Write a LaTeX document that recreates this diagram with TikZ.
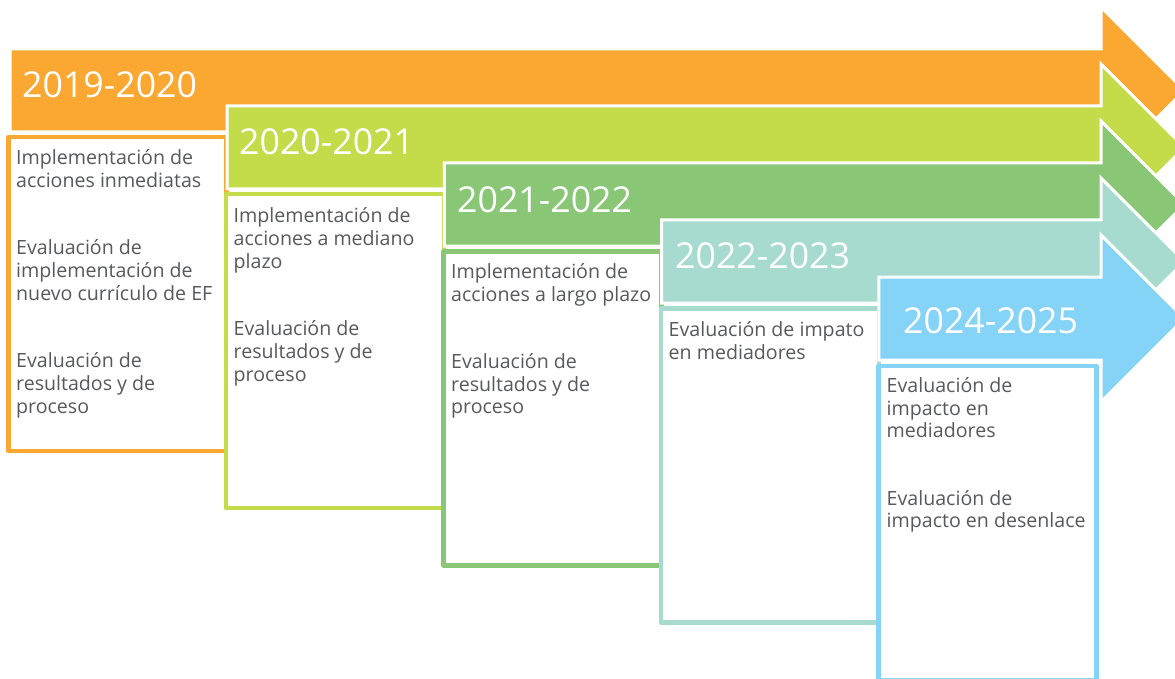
\documentclass[tikz,border=0pt]{standalone}
\usepackage{fontspec}
\setmainfont{Open Sans}
\definecolor{c1}{RGB}{251,168,50}
\definecolor{c2}{RGB}{196,219,74}
\definecolor{c3}{RGB}{137,199,118}
\definecolor{c4}{RGB}{168,219,208}
\definecolor{c5}{RGB}{133,212,248}
\definecolor{txt}{RGB}{88,89,91}
\begin{document}
\begin{tikzpicture}[x=1pt,y=-1pt,
  arrowshape/.style={fill=#1,draw=white,line width=3pt,line join=miter},
  boxframe/.style={draw=#1,fill=white,line width=4.5pt,line join=round},
  year/.style={anchor=base west,inner sep=0pt,text=white,font=\fontsize{35.7}{42}\selectfont},
  body/.style={anchor=north west,inner sep=0pt,align=left,text=txt,font=\fontsize{19.6}{22.8}\selectfont}]
\useasboundingbox (0,0) rectangle (1175,679);
\clip (0,0) rectangle (1175,679);
\foreach \k/\c in {0/c1,1/c2,2/c3,3/c4,4/c5}{
  \pgfmathsetmacro\L{10+217.2*\k}
  \pgfmathsetmacro\T{49+57*\k}
  \pgfmathsetmacro\B{\T+83}
  \pgfmathsetmacro\C{\T+41.5}
  \pgfmathsetmacro\HT{\T-42}
  \pgfmathsetmacro\HB{\B+42}
  \path[arrowshape=\c] (\L,\T) -- (1101,\T) -- (1101,\HT) -- (1184.5,\C) -- (1101,\HB) -- (1101,\B) -- (\L,\B) -- cycle;
  \pgfmathsetmacro\BL{8.5+217.5*\k}
  \pgfmathsetmacro\BT{137+57.2*\k}
  \path[boxframe=\c] (\BL,\BT) rectangle ++(218,314);
}
\node[year] (y1) at (22,98) {2019-2020};
\node[year] (y2) at (239,155) {2020-2021};
\node[year] (y3) at (457,212) {2021-2022};
\node[year] (y4) at (675,268) {2022-2023};
\node[year] (y5) at (903,333) {2024-2025};
\node[body] (b1) at (16,144.5) {\rule{0pt}{20pt}Implementación de\\acciones inmediatas\\[44.5pt]Evaluación de\\implementación de\\nuevo currículo de EF\\[44.5pt]Evaluación de\\resultados y de\\proceso};
\node[body] (b2) at (233.5,202.5) {\rule{0pt}{20pt}Implementación de\\acciones a mediano\\plazo\\[44.5pt]Evaluación de\\resultados y de\\proceso};
\node[body] (b3) at (451,258) {\rule{0pt}{20pt}Implementación de\\acciones a largo plazo\\[44.5pt]Evaluación de\\resultados y de\\proceso};
\node[body] (b4) at (668.5,316) {\rule{0pt}{20pt}Evaluación de impato\\en mediadores};
\node[body] (b5) at (886.5,372) {\rule{0pt}{20pt}Evaluación de\\impacto en\\mediadores\\[44.5pt]Evaluación de\\impacto en desenlace};
\end{tikzpicture}
\end{document}
